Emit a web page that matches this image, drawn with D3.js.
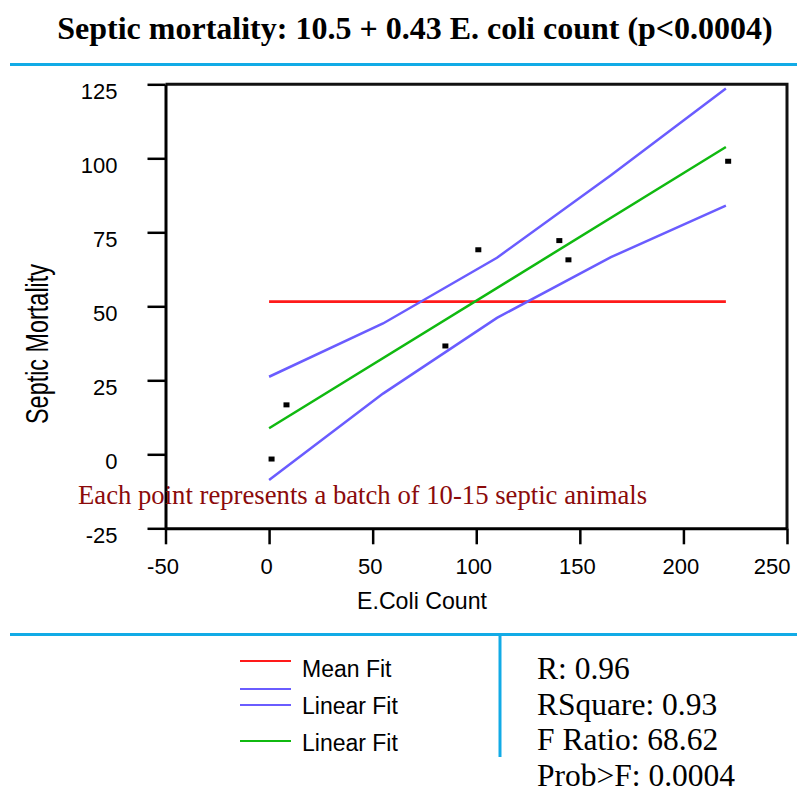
<!DOCTYPE html>
<html>
<head>
<meta charset="utf-8">
<script src="https://cdn.jsdelivr.net/npm/d3@7"></script>
<style>
  html, body { margin: 0; padding: 0; background: #fff; }
  svg { display: block; }
</style>
</head>
<body>
<svg id="chart" width="797" height="791"></svg>
<script>
// ---- data ----
const ecoliCount = [1.2, 8.4, 85.1, 101.0, 140.1, 144.5, 221.6];
const septicMortality = [-1.6, 16.7, 36.6, 69.1, 72.2, 65.7, 99.0];

const fitX = [0, 55, 110, 165, 220.5];
const upperBand = [26.2, 44.2, 66.4, 94.3, 123.6];
const lowerBand = [-8.7, 20.5, 46.1, 66.6, 84.0];
const linearFitX = [0, 220.5];
const linearFitY = [8.8, 103.8];
const meanFit = 51.6;

const xTicks = [-50, 0, 50, 100, 150, 200, 250];
const yTicks = [-25, 0, 25, 50, 75, 100, 125];

const legendLabels = ["Mean Fit", "Linear Fit", "Linear Fit"];
const statsLines = ["R: 0.96", "RSquare: 0.93", "F Ratio: 68.62", "Prob>F: 0.0004"];

const titleText = "Septic mortality: 10.5 + 0.43 E. coli count (p<0.0004)";
const noteText = "Each point represents a batch of 10-15 septic animals";

// ---- drawing ----
const svg = d3.select("#chart");
const RED = "#ff1a1a", BLUE = "#6a5cff", GREEN = "#10b910", CYAN = "#12abe6";

const x = d3.scaleLinear().domain([-50, 250]).range([165.5, 787]);
const y = d3.scaleLinear().domain([-25, 125]).range([528.3, 84.3]);

// title
svg.append("text")
  .attr("x", 415).attr("y", 39)
  .attr("text-anchor", "middle")
  .attr("font-family", "Liberation Serif, Times New Roman, serif")
  .attr("font-weight", "bold")
  .attr("font-size", 32)
  .text(titleText);

// separator lines
svg.append("line").attr("x1", 10).attr("x2", 797).attr("y1", 64.5).attr("y2", 64.5)
  .attr("stroke", CYAN).attr("stroke-width", 3);
svg.append("line").attr("x1", 10).attr("x2", 797).attr("y1", 634.5).attr("y2", 634.5)
  .attr("stroke", CYAN).attr("stroke-width", 3);
svg.append("line").attr("x1", 500).attr("x2", 500).attr("y1", 634).attr("y2", 757)
  .attr("stroke", CYAN).attr("stroke-width", 3);

// frame (top and right)
const [x0, x1] = x.range();
const [yb, yt] = y.range();
svg.append("path")
  .attr("d", `M${x0},${yt}H${x1}V${yb}`)
  .attr("fill", "none").attr("stroke", "#111").attr("stroke-width", 3);

// axes
const fmt = d => String(d);
const xAxis = d3.axisBottom(x).tickValues(xTicks).tickFormat(fmt).tickSize(16).tickSizeOuter(0).tickPadding(14);
const gx = svg.append("g").attr("transform", `translate(0,${yb})`).call(xAxis);
const yAxis = d3.axisLeft(y).tickValues(yTicks).tickFormat(fmt).tickSize(18).tickSizeOuter(0).tickPadding(30);
const gy = svg.append("g").attr("transform", `translate(${x0},0)`).call(yAxis);

[gx, gy].forEach(g => {
  g.selectAll(".domain").attr("stroke", "#000").attr("stroke-width", 3);
  g.selectAll(".tick line").attr("stroke", "#000").attr("stroke-width", 2.5);
  g.selectAll(".tick text")
    .attr("font-family", "Liberation Sans, Arial, sans-serif")
    .attr("font-size", 22)
    .attr("fill", "#000");
});
gx.selectAll(".tick text").attr("dx", -3);
gx.selectAll(".tick text").filter(d => d === 250)
  .attr("text-anchor", "end").attr("dx", 3);
gy.selectAll(".tick text").attr("dy", "0.64em").attr("x", -48);

// axis titles
svg.append("text")
  .attr("x", 422).attr("y", 609)
  .attr("text-anchor", "middle")
  .attr("font-family", "Liberation Sans, Arial, sans-serif")
  .attr("font-size", 24)
  .attr("textLength", 130).attr("lengthAdjust", "spacingAndGlyphs")
  .text("E.Coli Count");

svg.append("text")
  .attr("transform", "translate(48,344) rotate(-90)")
  .attr("text-anchor", "middle")
  .attr("font-family", "Liberation Sans, Arial, sans-serif")
  .attr("font-size", 32)
  .attr("textLength", 160).attr("lengthAdjust", "spacingAndGlyphs")
  .text("Septic Mortality");

// fit lines
const line = d3.line().x(d => x(d[0])).y(d => y(d[1]));
svg.append("path")
  .attr("d", line([[fitX[0], meanFit], [fitX[fitX.length - 1], meanFit]]))
  .attr("fill", "none").attr("stroke", RED).attr("stroke-width", 2.8);
svg.append("path")
  .attr("d", line(fitX.map((v, i) => [v, upperBand[i]])))
  .attr("fill", "none").attr("stroke", BLUE).attr("stroke-width", 2.5);
svg.append("path")
  .attr("d", line(fitX.map((v, i) => [v, lowerBand[i]])))
  .attr("fill", "none").attr("stroke", BLUE).attr("stroke-width", 2.5);
svg.append("path")
  .attr("d", line(linearFitX.map((v, i) => [v, linearFitY[i]])))
  .attr("fill", "none").attr("stroke", GREEN).attr("stroke-width", 2.5);

// points
svg.append("g").selectAll("rect")
  .data(ecoliCount.map((v, i) => [v, septicMortality[i]]))
  .join("rect")
  .attr("x", d => x(d[0]) - 3).attr("y", d => y(d[1]) - 2.5)
  .attr("width", 6).attr("height", 5)
  .attr("fill", "#000");

// note
svg.append("text")
  .attr("x", 78).attr("y", 504)
  .attr("font-family", "Liberation Serif, Times New Roman, serif")
  .attr("font-size", 26.7)
  .attr("fill", "#8b0a0a")
  .text(noteText);

// legend
const legendColors = [RED, BLUE, GREEN];
const legendLineY = [661, 705, 741];
const legendTextY = [677, 714, 751];
legendLabels.forEach((lab, i) => {
  svg.append("line").attr("x1", 240).attr("x2", 291)
    .attr("y1", legendLineY[i]).attr("y2", legendLineY[i])
    .attr("stroke", legendColors[i]).attr("stroke-width", 2);
  svg.append("text").attr("x", 302).attr("y", legendTextY[i])
    .attr("font-family", "Liberation Sans, Arial, sans-serif")
    .attr("font-size", 23)
    .text(lab);
});
svg.append("line").attr("x1", 240).attr("x2", 291)
  .attr("y1", 689).attr("y2", 689)
  .attr("stroke", BLUE).attr("stroke-width", 2);

// stats
statsLines.forEach((s, i) => {
  svg.append("text").attr("x", 537).attr("y", 679 + i * 35.7)
    .attr("font-family", "Liberation Serif, Times New Roman, serif")
    .attr("font-size", 31.5)
    .text(s);
});
</script>
</body>
</html>
